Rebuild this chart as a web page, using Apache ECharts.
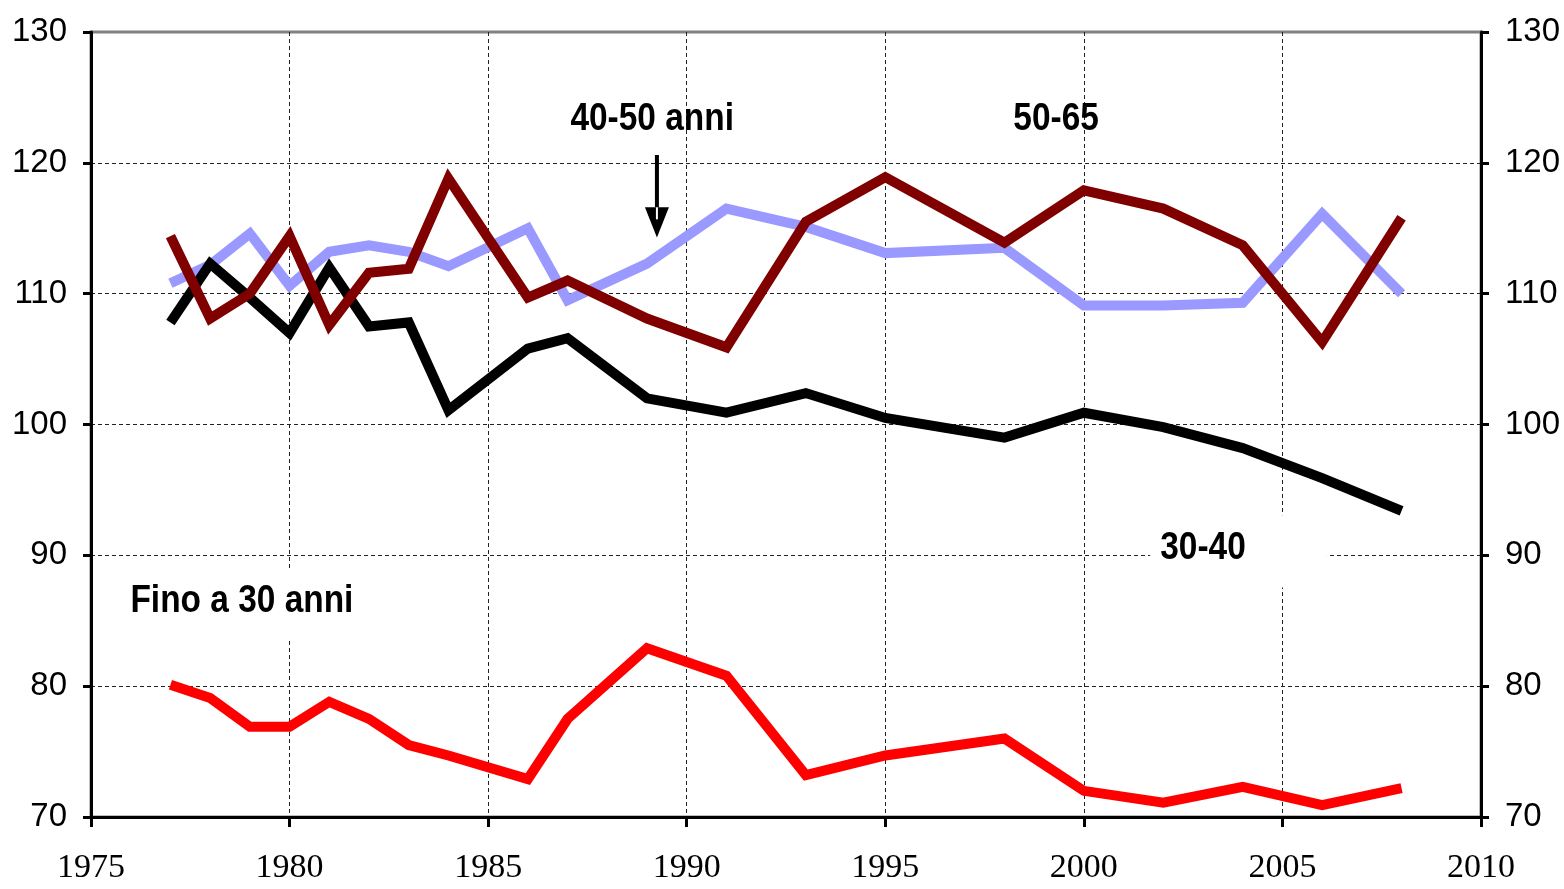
<!DOCTYPE html>
<html>

<head>
  <meta charset="utf-8">
  <title>Indici per classi di età</title>
  <script src="https://cdn.jsdelivr.net/npm/echarts@6/dist/echarts.min.js"></script>
</head>

<body style="margin:0">
  <div id="main" style="width:1564px;height:889px"></div>
  <script type="text/javascript">
    var years = [1977, 1978, 1979, 1980, 1981, 1982, 1983, 1984, 1986, 1987, 1989, 1991, 1993, 1995, 1998, 2000, 2002, 2004, 2006, 2008];

    var fino30 = [80.1, 79.1, 76.9, 76.9, 78.8, 77.5, 75.5, 74.7, 72.9, 77.5, 82.9, 80.8, 73.2, 74.7, 76.0, 72.0, 71.1, 72.3, 70.9, 72.2];
    var eta3040 = [107.8, 112.3, 109.7, 107.0, 112.0, 107.5, 107.8, 101.1, 105.8, 106.6, 102.0, 100.9, 102.4, 100.5, 99.0, 100.9, 99.8, 98.2, 95.9, 93.4];
    var eta4050 = [110.8, 112.2, 114.6, 110.6, 113.2, 113.7, 113.2, 112.1, 115.0, 109.5, 112.3, 116.5, 115.1, 113.1, 113.5, 109.1, 109.1, 109.3, 116.1, 110.0];
    var eta5065 = [114.4, 108.1, 110.0, 114.4, 107.6, 111.6, 111.9, 118.8, 109.7, 111.0, 108.1, 105.9, 115.5, 118.9, 113.9, 117.9, 116.5, 113.7, 106.3, 115.8];

    var xTicks = { min: 1975, max: 2010, step: 5 };
    var yTicks = { min: 70, max: 130, step: 10 };

    var myChart = echarts.init(document.getElementById('main'));

    function pairs(vals) {
      return years.map(function (y, i) { return [y, vals[i]]; });
    }

    function lineSeries(name, vals, color) {
      return {
        name: name,
        type: 'line',
        data: pairs(vals),
        showSymbol: false,
        lineStyle: { color: color, width: 10, cap: 'butt', join: 'miter' },
        itemStyle: { color: color }
      };
    }

    var yLabel = { color: '#000', fontFamily: '"Liberation Sans", Arial, sans-serif', fontSize: 33, margin: 24 };
    var grid = { color: '#222', width: 1, type: [4, 3] };

    var option = {
      animation: false,
      backgroundColor: '#fff',
      grid: { left: 91, right: 83, top: 32, bottom: 72, show: true, borderColor: '#808080', borderWidth: 3 },
      xAxis: {
        type: 'value',
        min: xTicks.min, max: xTicks.max, interval: xTicks.step,
        axisLine: { onZero: false, lineStyle: { color: '#000', width: 3 } },
        axisTick: { length: 10, lineStyle: { color: '#000', width: 3 } },
        axisLabel: {
          color: '#000', fontFamily: '"Liberation Serif", "Times New Roman", serif', fontSize: 34, margin: 34,
          formatter: function (v) { return String(v); }
        },
        splitLine: { show: true, showMinLine: false, showMaxLine: false, lineStyle: grid }
      },
      yAxis: [
        {
          type: 'value', position: 'left',
          min: yTicks.min, max: yTicks.max, interval: yTicks.step,
          axisLine: { show: true, lineStyle: { color: '#000', width: 3 } },
          axisTick: { show: true, length: 8, lineStyle: { color: '#000', width: 3 } },
          axisLabel: yLabel,
          splitLine: { show: true, showMinLine: false, showMaxLine: false, lineStyle: grid }
        },
        {
          type: 'value', position: 'right',
          min: yTicks.min, max: yTicks.max, interval: yTicks.step,
          axisLine: { show: true, lineStyle: { color: '#000', width: 3 } },
          axisTick: { show: true, length: 8, lineStyle: { color: '#000', width: 3 } },
          axisLabel: yLabel,
          splitLine: { show: false }
        }
      ],
      series: [
        lineSeries('40-50 anni', eta4050, '#9999FF'),
        lineSeries('30-40', eta3040, '#000000'),
        lineSeries('50-65', eta5065, '#800000'),
        lineSeries('Fino a 30 anni', fino30, '#FF0000')
      ]
    };

    myChart.setOption(option);

    // annotations, placed in data coordinates; narrow bold look via scaleX
    var noteFont = 'bold 38px "Liberation Sans", Arial, sans-serif';
    function px(p) { return myChart.convertToPixel({ gridIndex: 0 }, p); }

    function note(text, at) {
      var p = px(at);
      return {
        type: 'text', z: 50, x: p[0], y: p[1], scaleX: 0.88,
        style: { text: text, x: 0, y: 0, align: 'center', verticalAlign: 'middle', font: noteFont, fill: '#000' }
      };
    }

    function whiteBox(from, to) {
      var a = px(from), b = px(to);
      return {
        type: 'rect', z: 45,
        shape: { x: a[0], y: a[1], width: b[0] - a[0], height: b[1] - a[1] },
        style: { fill: '#fff' }
      };
    }

    var a0 = px([1989.25, 120.6]), a1 = px([1989.25, 116.6]), a2 = px([1989.25, 114.3]);
    myChart.setOption({
      graphic: [
        whiteBox([2001.67, 93.06], [2006.12, 87.55]),
        whiteBox([1975.8, 88.85], [1982.0, 83.65]),
        note('40-50 anni', [1989.13, 123.3]),
        note('50-65', [1999.3, 123.3]),
        note('30-40', [2003.0, 90.5]),
        note('Fino a 30 anni', [1978.8, 86.5]),
        { type: 'line', z: 50, shape: { x1: a0[0], y1: a0[1], x2: a1[0], y2: a1[1] }, style: { stroke: '#000', lineWidth: 4 } },
        { type: 'polygon', z: 50, shape: { points: [[a1[0] - 12, a1[1]], [a1[0] + 12, a1[1]], [a2[0], a2[1]]] }, style: { fill: '#000' } },
        { type: 'line', z: 51, shape: { x1: a1[0], y1: a1[1], x2: a1[0], y2: a1[1] + 12 }, style: { stroke: '#fff', lineWidth: 2 } }
      ]
    });
  </script>
</body>

</html>
